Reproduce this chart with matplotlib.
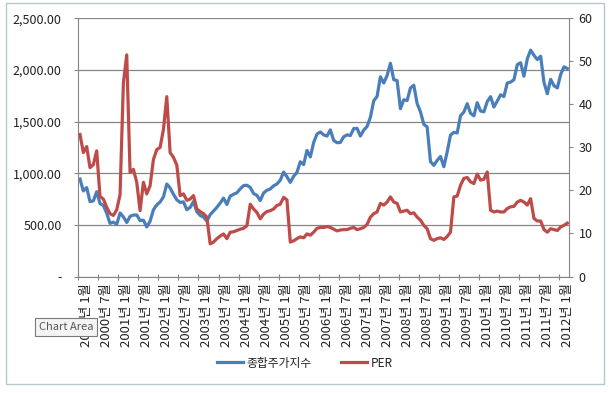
import matplotlib.pyplot as plt
from matplotlib.patches import Rectangle
from matplotlib.lines import Line2D

plt.rcParams['font.family'] = ['Noto Sans CJK KR', 'DejaVu Sans']

# monthly, 2000-01 .. 2012-03
months = [f"{y}년 {m}월" for y in range(2000, 2013) for m in range(1, 13)][:147]

kospi = [
    943.9, 828.4, 860.9, 725.4, 731.9, 821.2, 706.0, 688.6, 613.2, 514.5, 526.4, 504.6,
    615.5, 578.1, 523.2, 582.3, 595.1, 595.9, 541.5, 545.1, 479.7, 535.7, 646.0, 693.7,
    722.1, 770.6, 895.6, 857.8, 796.4, 742.7, 717.6, 722.5, 646.4, 668.9, 725.9, 627.6,
    591.9, 575.4, 535.7, 599.4, 633.4, 669.9, 710.5, 759.5, 697.5, 778.5, 796.2, 810.7,
    848.5, 880.3, 883.6, 862.8, 803.8, 785.8, 735.3, 808.7, 835.1, 847.6, 878.1, 895.9,
    932.7, 1011.4, 965.7, 911.3, 970.2, 1008.2, 1111.3, 1083.3, 1221.0, 1158.1, 1297.4, 1379.4,
    1399.8, 1371.6, 1359.6, 1419.7, 1317.7, 1295.2, 1297.8, 1352.7, 1371.4, 1364.6, 1432.2, 1434.5,
    1360.2, 1417.3, 1452.6, 1542.2, 1700.9, 1743.6, 1933.3, 1873.2, 1946.5, 2064.9, 1906.0, 1897.1,
    1624.7, 1711.6, 1704.0, 1825.5, 1852.0, 1674.9, 1594.7, 1474.2, 1448.1, 1113.1, 1076.1, 1124.5,
    1162.1, 1063.0, 1206.3, 1369.4, 1395.9, 1390.1, 1557.3, 1591.9, 1673.1, 1580.7, 1555.6, 1682.8,
    1602.4, 1594.6, 1692.9, 1741.6, 1641.3, 1698.3, 1759.3, 1742.8, 1872.8, 1883.0, 1904.6, 2051.0,
    2069.7, 1939.3, 2106.7, 2192.4, 2142.5, 2100.7, 2133.2, 1880.1, 1769.7, 1909.0, 1847.5, 1825.7,
    1955.8, 2030.3, 2014.0,
]

per = [
    33.0, 28.8, 30.2, 25.3, 26.0, 29.2, 18.6, 18.0, 16.1, 14.6, 14.2, 15.5,
    19.0, 45.0, 51.5, 24.2, 24.9, 21.9, 15.3, 21.9, 19.2, 21.1, 27.2, 29.5,
    30.0, 34.2, 41.8, 28.8, 27.7, 25.9, 18.8, 19.2, 17.7, 18.0, 18.8, 15.7,
    15.1, 14.6, 13.8, 7.6, 8.0, 8.8, 9.4, 9.9, 8.8, 10.3, 10.4, 10.7,
    11.0, 11.2, 11.8, 16.8, 15.7, 14.9, 13.4, 14.5, 15.1, 15.3, 15.7, 16.5,
    16.8, 18.4, 17.8, 8.0, 8.3, 8.8, 9.2, 9.0, 9.9, 9.6, 10.3, 11.2,
    11.4, 11.4, 11.6, 11.4, 11.0, 10.6, 10.8, 10.9, 10.9, 11.2, 11.4, 10.9,
    11.1, 11.4, 12.1, 13.8, 14.6, 15.0, 17.0, 16.6, 17.3, 18.5, 17.3, 17.0,
    15.0, 15.2, 15.4, 14.6, 14.8, 13.8, 13.1, 11.9, 11.1, 8.8, 8.4, 8.8,
    9.0, 8.6, 9.3, 10.3, 18.5, 18.7, 21.2, 22.8, 23.0, 22.0, 21.6, 23.8,
    22.4, 22.6, 24.3, 15.4, 15.0, 15.2, 15.0, 15.0, 15.8, 16.2, 16.3, 17.3,
    17.7, 17.3, 16.6, 18.1, 13.5, 12.9, 12.9, 10.9, 10.3, 11.1, 10.9, 10.7,
    11.5, 11.9, 12.4,
]

blue = '#4a7ebb'
red = '#be4b48'
gray = '#868686'
txt = '#222222'

fig = plt.figure(figsize=(6.1, 3.93), dpi=100)
ax = fig.add_axes([0.1284, 0.2964, 0.8044, 0.657])
x = list(range(len(kospi)))
ax.plot(x, kospi, color=blue, lw=2.3, solid_joinstyle='round')
ax2 = ax.twinx()
ax2.plot(x, per, color=red, lw=2.3, solid_joinstyle='round')

ax.set_xlim(-0.5, len(kospi) - 0.5)
ax.set_ylim(0, 2500)
ax2.set_ylim(0, 60)

lt = list(range(0, 2501, 500))
ax.set_yticks(lt)
ax.set_yticklabels(['-'] + ['{:,.2f}'.format(v) for v in lt[1:]])
ax2.set_yticks(range(0, 61, 10))

ax.grid(axis='y', color=gray, lw=0.9)
ax.set_axisbelow(True)

# tick marks between categories, labels every 6 months
ax.set_xticks([k - 0.5 for k in range(0, len(kospi), 6)])
ax.set_xticklabels([])
ax.set_xticks([k + 2 for k in range(0, len(kospi), 6)], minor=True)
ax.set_xticklabels(months[::6], minor=True, rotation=90, fontsize=9.5, color=txt)
ax.tick_params(axis='x', which='major', direction='inout', length=5, color=gray)
ax.tick_params(axis='x', which='minor', length=0, pad=4.5)

ax.tick_params(axis='y', direction='out', length=3, color=gray, labelsize=9, labelcolor=txt, pad=9)
ax2.tick_params(axis='y', direction='out', length=3, color=gray, labelsize=9, labelcolor=txt, pad=4)

for a in (ax, ax2):
    a.spines['top'].set_visible(False)
    for s in ('left', 'right', 'bottom'):
        a.spines[s].set_color(gray)
ax.spines['right'].set_visible(False)
ax2.spines['left'].set_visible(False)
ax2.spines['bottom'].set_visible(False)

handles = [Line2D([], [], color=blue, lw=2.3), Line2D([], [], color=red, lw=2.3)]
fig.legend(handles, ['종합주가지수', 'PER'], loc='center', bbox_to_anchor=(0.5, 0.0763),
           ncol=2, frameon=False, fontsize=8.5, handlelength=2.2, handletextpad=0.3,
           columnspacing=2.5, labelcolor=txt)

# chart area frame and the hover tip from the screenshot
fig.add_artist(Rectangle((6 / 610, 1 - 384 / 393), 598 / 610, 381 / 393,
                         transform=fig.transFigure, fill=False, ec='#b3c9cb', lw=1))
fig.text(39 / 610, 1 - 327 / 393, 'Chart Area', ha='left', va='center', fontsize=8,
         color='#555555',
         bbox=dict(boxstyle='square,pad=0.35', fc='#f4f4f4', ec='#7a7a7a', lw=0.8))

fig.savefig('out.png', dpi=100)
